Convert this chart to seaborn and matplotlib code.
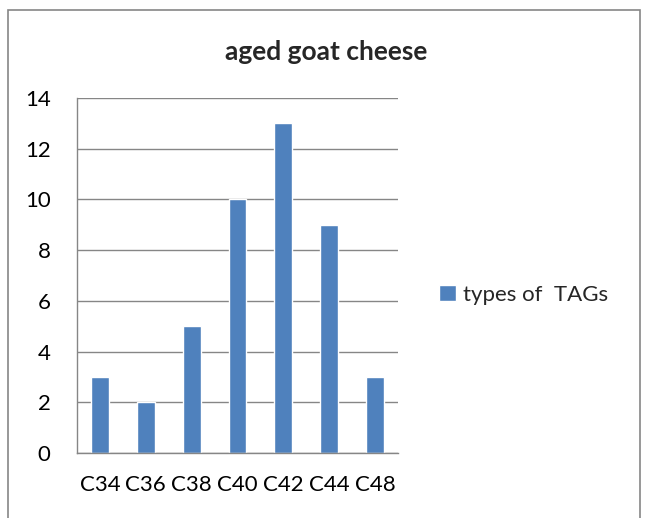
import matplotlib
matplotlib.use("Agg")
import matplotlib.pyplot as plt
from matplotlib.patches import Rectangle
from matplotlib.ticker import FixedLocator
import seaborn as sns
import pandas as pd

categories = ["C34", "C36", "C38", "C40", "C42", "C44", "C48"]
tag_counts = [3, 2, 5, 10, 13, 9, 3]
series_name = "types of  TAGs"
title = "aged goat cheese"
y_ticks = [0, 2, 4, 6, 8, 10, 12, 14]

sns.set_theme(style="white")
plt.rcParams["font.family"] = ["Lato", "DejaVu Sans"]

df = pd.DataFrame({"category": categories, "count": tag_counts})

fig = plt.figure(figsize=(6.45, 5.18), dpi=100)
ax = fig.add_axes([77 / 645, 1 - 453 / 518, (398 - 77) / 645, (453 - 98) / 518])

sns.barplot(data=df, x="category", y="count", color="#4F81BD", width=0.39,
            saturation=1, label=series_name, ax=ax)
if ax.get_legend() is not None:
    ax.get_legend().remove()

ax.set_ylim(0, 14)
ax.set_xlim(-0.5, len(categories) - 0.5)
ax.set_yticks(y_ticks)
ax.yaxis.grid(True, color="#868686", linewidth=1)
ax.set_axisbelow(True)
ax.set_xlabel("")
ax.set_ylabel("")

for side in ["top", "right"]:
    ax.spines[side].set_visible(False)
for side in ["left", "bottom"]:
    ax.spines[side].set_color("#868686")
    ax.spines[side].set_linewidth(1)

# category boundaries get the outward tick marks, labels stay centred
ax.xaxis.set_minor_locator(FixedLocator([i - 0.5 for i in range(len(categories) + 1)]))
ax.tick_params(axis="x", which="major", length=0, pad=16, labelsize=16)
ax.tick_params(axis="x", which="minor", length=6, width=1, color="#868686", direction="out")
ax.tick_params(axis="y", which="major", length=6, width=1, color="#868686",
               direction="out", pad=13, labelsize=16)
for lab in ax.get_xticklabels() + ax.get_yticklabels():
    lab.set_color("black")

fig.text(326 / 645, 1 - 52 / 518, title, ha="center", va="center",
         fontsize=19, fontweight="bold")

handles, labels = ax.get_legend_handles_labels()
fig.legend(handles, labels, loc="center left", bbox_to_anchor=(439 / 645, 1 - 295 / 518),
           frameon=False, fontsize=16, handlelength=0.75, handleheight=0.75,
           handletextpad=0.35, borderpad=0, borderaxespad=0)

fig.patches.append(Rectangle((7.5 / 645, -0.05), (640 - 7.5) / 645, 1.05 - 9.5 / 518,
                             transform=fig.transFigure, fill=False,
                             edgecolor="#868686", linewidth=1.2))

fig.savefig("out.png", dpi=100, facecolor="white")
